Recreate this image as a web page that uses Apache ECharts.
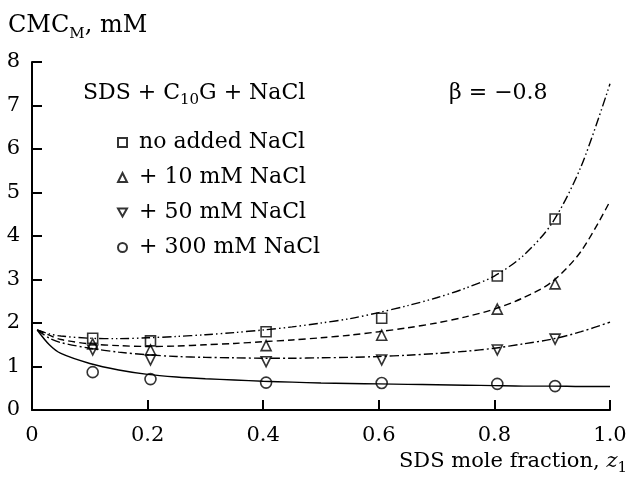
<!DOCTYPE html>
<html>
<head>
<meta charset="utf-8">
<script src="https://cdn.jsdelivr.net/npm/echarts/dist/echarts.min.js"></script>
<style>
  html, body { margin: 0; padding: 0; background: #fff; }
  #chart { width: 630px; height: 483px; }
</style>
</head>
<body>
<div id="chart"></div>
<script>
// measured points
const pointX = [0.105, 0.205, 0.405, 0.605, 0.805, 0.905];
const noSalt = [1.65, 1.59, 1.8, 2.11, 3.08, 4.39];
const salt10 = [1.52, 1.38, 1.48, 1.72, 2.32, 2.9];
const salt50 = [1.38, 1.15, 1.11, 1.15, 1.38, 1.63];
const salt300 = [0.87, 0.71, 0.63, 0.62, 0.6, 0.55];

// fitted curves
const curveX = [0.009, 0.03, 0.05, 0.1, 0.15, 0.2, 0.25, 0.3, 0.35, 0.4, 0.45, 0.5, 0.55, 0.6, 0.65, 0.7, 0.75, 0.8, 0.85, 0.9, 0.95, 1.0];
const fitNoSalt = [1.84, 1.75, 1.7, 1.65, 1.64, 1.66, 1.69, 1.73, 1.78, 1.84, 1.91, 2.0, 2.1, 2.24, 2.4, 2.58, 2.8, 3.08, 3.55, 4.3, 5.6, 7.5];
const fit10 = [1.84, 1.72, 1.62, 1.52, 1.48, 1.46, 1.47, 1.5, 1.53, 1.57, 1.61, 1.66, 1.72, 1.8, 1.89, 2.0, 2.14, 2.32, 2.58, 2.95, 3.65, 4.8];
const fit50 = [1.84, 1.65, 1.55, 1.42, 1.33, 1.27, 1.23, 1.21, 1.2, 1.19, 1.19, 1.2, 1.21, 1.23, 1.26, 1.3, 1.35, 1.42, 1.52, 1.63, 1.8, 2.02];
const fit300 = [1.84, 1.5, 1.3, 1.07, 0.92, 0.82, 0.76, 0.72, 0.69, 0.66, 0.64, 0.62, 0.61, 0.6, 0.59, 0.58, 0.57, 0.56, 0.55, 0.55, 0.54, 0.54];

const xTicks = ['0', '0.2', '0.4', '0.6', '0.8', '1.0'];
const legendNames = ['no added NaCl', '+ 10 mM NaCl', '+ 50 mM NaCl', '+ 300 mM NaCl'];

const FONT = 'DejaVu Serif';

const pairs = (xs, ys) => xs.map((x, i) => [x, ys[i]]);

const fitLine = (name, ys, dash) => ({
    name: name,
    type: 'line',
    data: pairs(curveX, ys),
    smooth: 0.3,
    showSymbol: false,
    silent: true,
    lineStyle: { color: '#000', width: 1.4, type: dash },
    z: 2
});

const points = (name, ys, symbol, rotate) => ({
    name: name,
    type: 'scatter',
    data: pairs(pointX, ys),
    symbol: symbol,
    symbolRotate: rotate || 0,
    symbolSize: symbol === 'circle' ? 11 : 10,
    itemStyle: { color: 'rgba(255,255,255,0)', borderColor: '#000', borderWidth: 1.6 },
    z: 3
});

const chart = echarts.init(document.getElementById('chart'));
const sub = { fontSize: 15, fontFamily: FONT, verticalAlign: 'bottom', lineHeight: 15 };
const norm = { fontSize: 22, fontFamily: FONT, lineHeight: 29 };
const axisName = { fontSize: 21, fontFamily: FONT, lineHeight: 28 };
const big = { fontSize: 24, fontFamily: FONT, lineHeight: 31 };

chart.setOption({
    animation: false,
    grid: { left: 32, right: 20, top: 62, bottom: 73 },
    xAxis: {
        type: 'value',
        min: 0, max: 1, interval: 0.2,
        axisLine: { lineStyle: { color: '#000', width: 2 } },
        axisTick: { inside: true, length: 10, lineStyle: { color: '#000', width: 2 } },
        axisLabel: {
            color: '#000', fontFamily: FONT, fontSize: 21, margin: 15,
            formatter: (v) => xTicks[Math.round(v / 0.2)]
        },
        splitLine: { show: false }
    },
    yAxis: {
        type: 'value',
        min: 0, max: 8, interval: 1,
        axisLine: { show: true, lineStyle: { color: '#000', width: 2 } },
        axisTick: { show: true, inside: true, length: 10, lineStyle: { color: '#000', width: 2 } },
        axisLabel: { color: '#000', fontFamily: FONT, fontSize: 21, margin: 12 },
        splitLine: { show: false }
    },
    legend: {
        data: [
            { name: legendNames[0], icon: 'rect' },
            { name: legendNames[1], icon: 'triangle' },
            { name: legendNames[2], icon: 'path://M0,0L10,0L5,9Z' },
            { name: legendNames[3], icon: 'circle' }
        ],
        symbolRotate: 0,
        orient: 'vertical',
        left: 112, top: 125,
        itemWidth: 9, itemHeight: 9,
        itemGap: 10,
        textStyle: {
            color: '#000', fontFamily: FONT, fontSize: 22, lineHeight: 25,
            padding: [0, 0, 0, 7]
        }
    },
    graphic: [
        {
            type: 'text', left: 8, top: 14,
            style: { text: '{n|CMC}{s|M}{n|, mM}', rich: { n: big, s: sub }, fill: '#000' }
        },
        {
            type: 'text', left: 83, top: 82,
            style: { text: '{n|SDS + C}{s|10}{n|G + NaCl}', rich: { n: norm, s: sub }, fill: '#000' }
        },
        {
            type: 'text', left: 449, top: 82,
            style: { text: '{n|β = −0.8}', rich: { n: norm }, fill: '#000' }
        },
        {
            type: 'text', right: 3, top: 451,
            style: {
                text: '{n|SDS mole fraction, }{i|z}{s|1}',
                rich: { n: axisName, i: Object.assign({}, axisName, { fontStyle: 'italic' }), s: sub },
                fill: '#000'
            }
        }
    ],
    series: [
        fitLine('fit0', fitNoSalt, [9, 3, 1.5, 3, 1.5, 3]),
        fitLine('fit10', fit10, [7, 4]),
        fitLine('fit50', fit50, [9, 3, 2, 3]),
        fitLine('fit300', fit300, 'solid'),
        points(legendNames[0], noSalt, 'rect'),
        points(legendNames[1], salt10, 'triangle'),
        points(legendNames[2], salt50, 'triangle', 180),
        points(legendNames[3], salt300, 'circle')
    ]
});
</script>
</body>
</html>
